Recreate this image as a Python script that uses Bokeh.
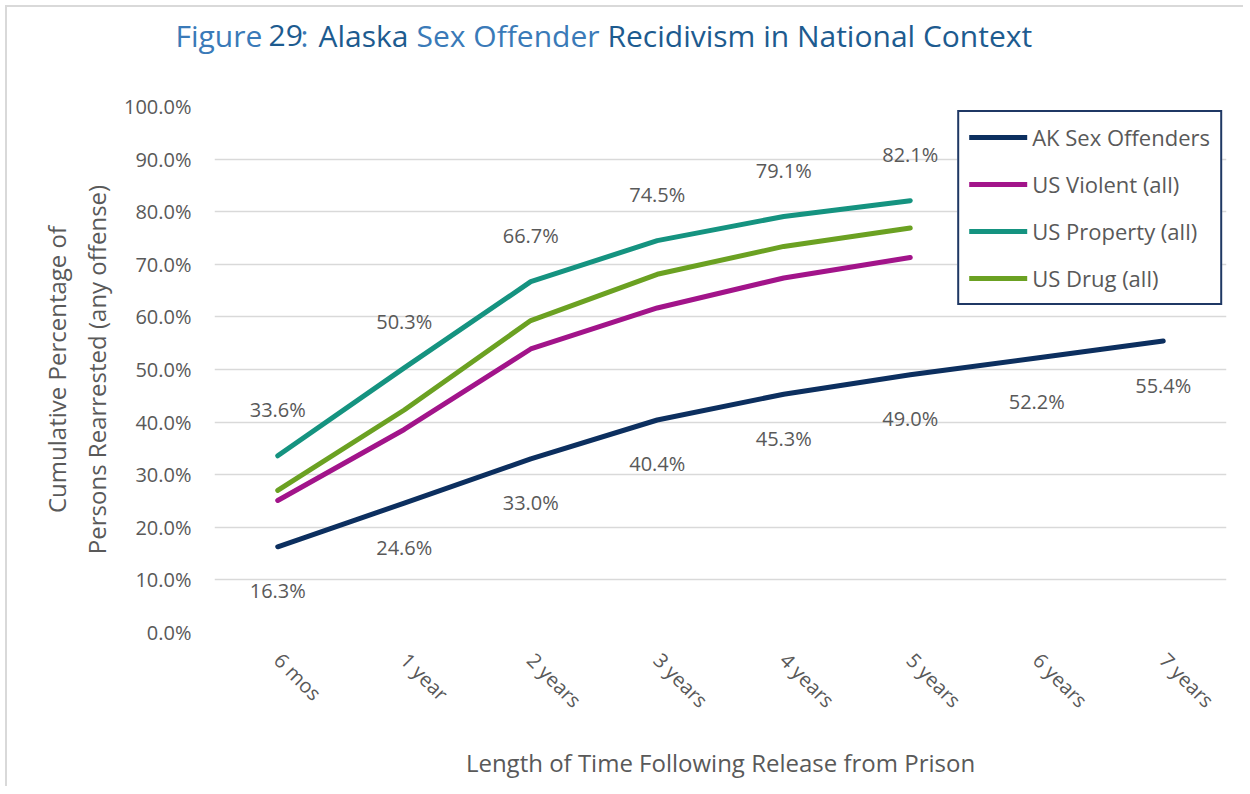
import math
from bokeh.plotting import figure
from bokeh.layouts import column
from bokeh.models import (FactorRange, Range1d, FixedTicker, PrintfTickFormatter,
                          Label, Legend, LegendItem, ColumnDataSource)
from bokeh.embed import file_html
from bokeh.resources import INLINE
from bokeh.core.properties import value

periods = ["6 mos", "1 year", "2 years", "3 years", "4 years", "5 years", "6 years", "7 years"]
ak_sex = [16.3, 24.6, 33.0, 40.4, 45.3, 49.0, 52.2, 55.4]
us_violent = [25.1, 38.6, 53.9, 61.7, 67.4, 71.3]
us_property = [33.6, 50.3, 66.7, 74.5, 79.1, 82.1]
us_drug = [27.0, 42.3, 59.3, 68.1, 73.4, 76.9]
y_ticks = [0, 10, 20, 30, 40, 50, 60, 70, 80, 90, 100]

FONT = "Open Sans"
GRAY = "#595959"
C_AK = "#0c2f5f"
C_VIO = "#a2148a"
C_PROP = "#159380"
C_DRUG = "#6ba122"
OX = 7            # page offset of the chart (margin + border)
W = 1236
TH = 70 - OX

# ---- title strip ----
t = figure(width=W, height=TH, x_range=Range1d(0, W), y_range=Range1d(TH, 0),
           output_backend="svg", toolbar_location=None, x_axis_type=None, y_axis_type=None,
           min_border=0)
t.frame_align = False
t.outline_line_color = None
t.grid.grid_line_color = None
LIGHT = "#3a7ab8"
DARK = "#1d5b8f"
segments = [("Figure", 175, LIGHT), ("29", 268, DARK), (":", 300, LIGHT),
            ("Alaska", 318, DARK), ("Sex Offender", 416, LIGHT),
            ("Recidivism in National Context", 607, DARK)]
for txt, x, col in segments:
    t.add_layout(Label(x=x - OX, y=35 - OX, text=txt, text_color=col, text_font=FONT,
                       text_font_size="30px", text_baseline="middle", text_align="left"))

# ---- main chart ----
p = figure(width=W, height=786 - 70, x_range=FactorRange(factors=periods, range_padding=0),
           y_range=Range1d(0, 100), output_backend="svg", toolbar_location=None,
           min_border_left=214 - OX, min_border_right=W - (1226 - OX), min_border_top=106 - 70,
           min_border_bottom=786 - 632)
p.frame_align = False
p.outline_line_color = None
p.xgrid.grid_line_color = None
p.ygrid.grid_line_color = "#d9d9d9"
p.ygrid.grid_line_width = 1.5
p.yaxis.ticker = FixedTicker(ticks=y_ticks)
p.yaxis.formatter = PrintfTickFormatter(format="%.1f%%")
for ax in (p.xaxis, p.yaxis):
    ax.axis_line_color = None
    ax.major_tick_line_color = None
    ax.minor_tick_line_color = None
    ax.major_label_text_color = GRAY
    ax.major_label_text_font = FONT
    ax.major_label_text_font_size = "20px"
    ax.axis_label_text_font = FONT
    ax.axis_label_text_font_size = "24px"
    ax.axis_label_text_color = GRAY
    ax.axis_label_text_font_style = "normal"
p.yaxis.major_label_standoff = 17
p.xaxis.major_label_standoff = 18
p.xaxis.major_label_orientation = -math.pi / 4
p.yaxis.axis_label = "Cumulative Percentage of\nPersons Rearrested (any offense)"
p.yaxis.axis_label_standoff = 8
p.xaxis.axis_label = "Length of Time Following Release from Prison"
p.xaxis.axis_label_standoff = 20

def line(vals, color):
    src = ColumnDataSource(dict(x=periods[:len(vals)], y=vals))
    return p.line("x", "y", source=src, line_color=color, line_width=5,
                  line_cap="round", line_join="round")

r_prop = line(us_property, C_PROP)
r_drug = line(us_drug, C_DRUG)
r_vio = line(us_violent, C_VIO)
r_ak = line(ak_sex, C_AK)

prop_src = ColumnDataSource(dict(x=periods[:len(us_property)], y=us_property,
                                 t=["%.1f%%" % v for v in us_property]))
ak_src = ColumnDataSource(dict(x=periods, y=ak_sex, t=["%.1f%%" % v for v in ak_sex]))
p.text("x", "y", text="t", source=prop_src, y_offset=-46, text_align="center",
       text_baseline="middle", text_color=GRAY, text_font=value(FONT), text_font_size="20px")
p.text("x", "y", text="t", source=ak_src, y_offset=44, text_align="center",
       text_baseline="middle", text_color=GRAY, text_font=value(FONT), text_font_size="20px")

legend = Legend(items=[LegendItem(label="AK Sex Offenders", renderers=[r_ak]),
                       LegendItem(label="US Violent (all)", renderers=[r_vio]),
                       LegendItem(label="US Property (all)", renderers=[r_prop]),
                       LegendItem(label="US Drug (all)", renderers=[r_drug])],
                location="top_right", padding=10, spacing=17, margin=4,
                label_height=26, glyph_height=26, glyph_width=58, label_standoff=5,
                label_text_font=FONT, label_text_font_size="22px", label_text_color=GRAY,
                border_line_color="#1f3864", border_line_width=2, border_line_alpha=1.0,
                background_fill_color="white", background_fill_alpha=1.0)
p.add_layout(legend)

layout = column(t, p, spacing=0,
                styles={"margin-left": "5px", "margin-top": "5px",
                        "border-left": "2px solid #d9d9d9", "border-top": "2px solid #d9d9d9"})
open("out.html", "w").write(file_html(layout, INLINE))
